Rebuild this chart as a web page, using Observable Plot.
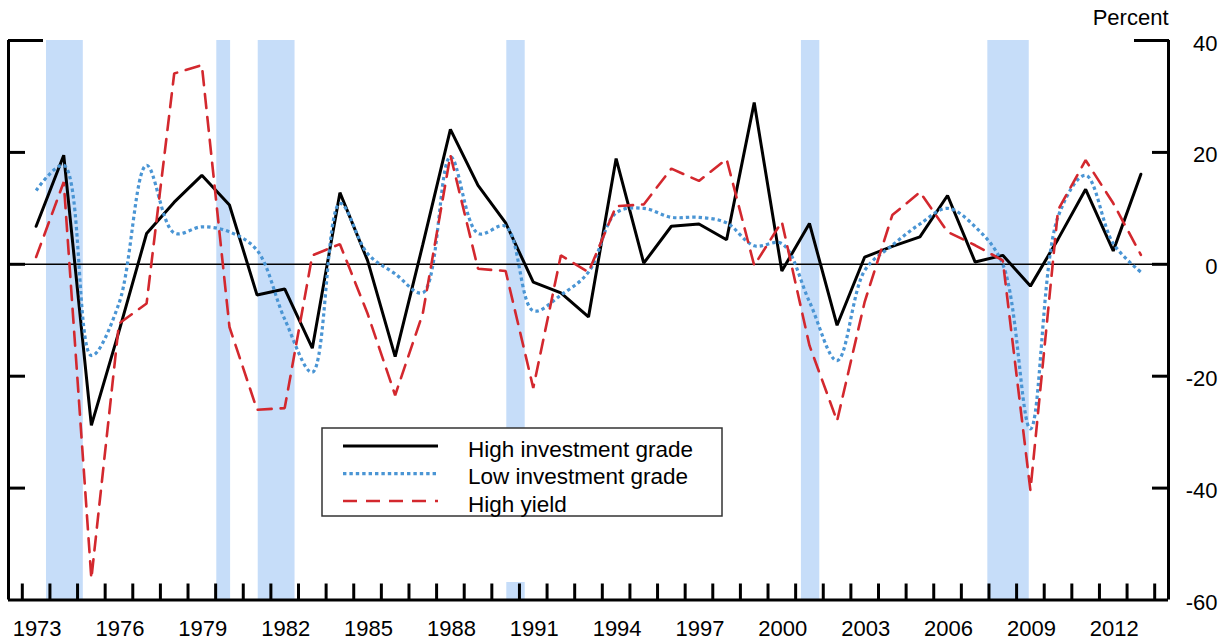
<!DOCTYPE html>
<html>
<head>
<meta charset="utf-8">
<script src="https://cdn.jsdelivr.net/npm/d3@7"></script>
<script src="https://cdn.jsdelivr.net/npm/@observablehq/plot@0.6"></script>
<style>
  html, body { margin: 0; padding: 0; background: #fff; }
  #wrap { position: relative; width: 1226px; height: 639px; font-family: "Liberation Sans", Arial, sans-serif; }
  #wrap > svg { display: block; }
  #mask { position: absolute; left: 322px; top: 431px; width: 400px; height: 151px; background: #fff; }
  #legend { position: absolute; left: 321px; top: 427px; }
</style>
</head>
<body>
<div id="wrap"></div>
<script>
// Annual returns by rating class, percent
const years = [1973, 1974, 1975, 1976, 1977, 1978, 1979, 1980, 1981, 1982, 1983, 1984, 1985, 1986,
  1987, 1988, 1989, 1990, 1991, 1992, 1993, 1994, 1995, 1996, 1997, 1998, 1999, 2000,
  2001, 2002, 2003, 2004, 2005, 2006, 2007, 2008, 2009, 2010, 2011, 2012, 2013];

const highInvestmentGrade = [6.8, 19.5, -28.8, -12.0, 5.5, 11.1, 15.9, 10.6, -5.5, -4.4, -15.0, 12.8, 0.7, -16.5,
  3.5, 24.1, 14.1, 7.4, -3.2, -5.1, -9.4, 18.9, 0.2, 6.8, 7.2, 4.4, 28.9, -1.2,
  7.3, -10.9, 1.3, 3.2, 4.9, 12.3, 0.4, 1.6, -3.9, 4.5, 13.4, 2.4, 16.1];

const lowInvestmentGrade = [13.2, 17.7, -16.3, -7.0, 17.7, 5.6, 6.7, 5.8, 2.5, -9.8, -19.3, 10.9, 1.9, -1.7,
  -5.1, 19.2, 5.5, 6.8, -8.3, -5.5, -1.4, 9.2, 10.0, 8.4, 8.4, 7.4, 3.3, 3.7,
  -6.7, -17.2, -1.1, 3.4, 7.2, 10.0, 6.7, 0.0, -29.4, 8.5, 15.9, 3.7, -1.4];

const highYield = [1.3, 14.7, -56.2, -10.6, -7.0, 34.1, 35.6, -11.2, -26.0, -25.7, 1.6, 3.6, -8.8, -23.4,
  -8.8, 19.5, -0.8, -1.2, -22.1, 1.6, -1.4, 10.4, 10.7, 17.1, 14.9, 18.8, -0.2, 7.6,
  -14.5, -28.0, -6.7, 8.8, 12.9, 5.8, 3.4, 0.7, -40.4, 9.7, 18.6, 10.9, 1.7];

// NBER recessions (peak month to trough month)
const recessionStarts = ["1973-11", "1980-01", "1981-07", "1990-07", "2001-03", "2007-12"];
const recessionEnds   = ["1975-03", "1980-07", "1982-11", "1991-03", "2001-11", "2009-06"];

const seriesNames = ["High investment grade", "Low investment grade", "High yield"];
const xLabelYears = [1973, 1976, 1979, 1982, 1985, 1988, 1991, 1994, 1997, 2000, 2003, 2006, 2009, 2012];
const yTickValues = [40, 20, 0, -20, -40, -60];

const colors = { high: "#000000", low: "#4a95d4", hy: "#d3282e", band: "#c6ddf9" };
const dashLow = "3.4,3";
const dashHY = "14,9";

// Each year's value sits at mid-year; year boundaries carry the minor ticks
const rowsOf = values => years.map((year, i) => ({ t: year + 0.5, value: values[i] }));
const toDecimal = s => { const [y, m] = s.split("-").map(Number); return y + (m - 0.5) / 12; };
const recessions = recessionStarts.map((s, i) => ({ start: toDecimal(s), end: toDecimal(recessionEnds[i]) }));
const yearBoundaries = d3.range(years[0], years[years.length - 1] + 2);

const chart = Plot.plot({
  width: 1226,
  height: 639,
  marginLeft: 8,
  marginRight: 58,
  marginTop: 40,
  marginBottom: 39.5,
  x: { domain: [years[0] - 0.5, years[years.length - 1] + 1.5] },
  y: { domain: [-60, 40] },
  style: { fontFamily: "'Liberation Sans', Arial, sans-serif", fontSize: "22px", background: "#fff", color: "#000", overflow: "visible" },
  marks: [
    Plot.rect(recessions, { x1: "start", x2: "end", fill: colors.band }),
    Plot.ruleY([0], { stroke: "#000", strokeWidth: 1.4 }),
    Plot.lineY(rowsOf(highInvestmentGrade), { x: "t", y: "value", stroke: colors.high, strokeWidth: 3, strokeLinejoin: "miter" }),
    Plot.lineY(rowsOf(lowInvestmentGrade), { x: "t", y: "value", stroke: colors.low, strokeWidth: 3.2, strokeDasharray: dashLow, strokeLinecap: "butt", curve: "catmull-rom" }),
    Plot.lineY(rowsOf(highYield), { x: "t", y: "value", stroke: colors.hy, strokeWidth: 2.6, strokeDasharray: dashHY, strokeLinejoin: "miter" }),
    // frame: left, right and bottom edges
    Plot.ruleX([years[0] - 0.5, years[years.length - 1] + 1.5], { stroke: "#000", strokeWidth: 3 }),
    Plot.ruleY([-60], { stroke: "#000", strokeWidth: 3 }),
    // inward ticks
    Plot.axisX({ anchor: "bottom", ticks: yearBoundaries, tickSize: -16, strokeWidth: 3, fill: "none", label: null }),
    Plot.axisX({ anchor: "bottom", ticks: xLabelYears.map(y => y + 0.5), tickFormat: d => String(d - 0.5), tickSize: 0, tickPadding: 20, dx: 1, fontSize: 22, label: null }),
    Plot.axisY({ anchor: "left", ticks: yTickValues.slice(1, 5), tickSize: -17, strokeWidth: 3, fill: "none", label: null }),
    Plot.axisY({ anchor: "left", ticks: [yTickValues[0]], tickSize: -35, strokeWidth: 3, fill: "none", label: null }),
    Plot.axisY({ anchor: "right", ticks: yTickValues.slice(1, 5), tickSize: -17, strokeWidth: 3, fill: "none", label: null }),
    Plot.axisY({ anchor: "right", ticks: [yTickValues[0]], tickSize: -35, strokeWidth: 3, fill: "none", label: null }),
    Plot.axisY({ anchor: "right", ticks: yTickValues, tickFormat: d => String(d), tickSize: 0, tickPadding: 0, dx: 49, dy: 3, textAnchor: "end", fontSize: 22, label: null }),
    Plot.text(["Percent"], { text: d => d, frameAnchor: "top-right", textAnchor: "end", lineAnchor: "middle", dy: -23, fontSize: 22 })
  ]
});

const wrap = document.getElementById("wrap");
wrap.appendChild(chart);

// legend panel (its white backing also blanks the shading beneath it)
const mask = document.createElement("div");
mask.id = "mask";
wrap.appendChild(mask);

const legendItems = [
  { label: seriesNames[0], stroke: colors.high, dash: null, width: 3, baseline: 29.7 },
  { label: seriesNames[1], stroke: colors.low, dash: dashLow, width: 3.2, baseline: 57.2 },
  { label: seriesNames[2], stroke: colors.hy, dash: dashHY, width: 2.6, baseline: 84.6 }
];
const legendLineY = [19, 46.7, 74];

const legend = d3.create("svg").attr("id", "legend").attr("width", 404).attr("height", 92);
legend.append("rect")
  .attr("x", 1).attr("y", 1).attr("width", 400).attr("height", 88)
  .attr("fill", "#fff").attr("stroke", "#333").attr("stroke-width", 1.5);
legendItems.forEach((item, i) => {
  legend.append("line")
    .attr("x1", 22).attr("x2", 117).attr("y1", legendLineY[i]).attr("y2", legendLineY[i])
    .attr("stroke", item.stroke).attr("stroke-width", item.width)
    .attr("stroke-dasharray", item.dash);
  legend.append("text")
    .attr("x", 147).attr("y", item.baseline)
    .attr("font-family", "'Liberation Sans', Arial, sans-serif")
    .attr("font-size", 22.5).attr("fill", "#000")
    .text(item.label);
});
wrap.appendChild(legend.node());
</script>
</body>
</html>
